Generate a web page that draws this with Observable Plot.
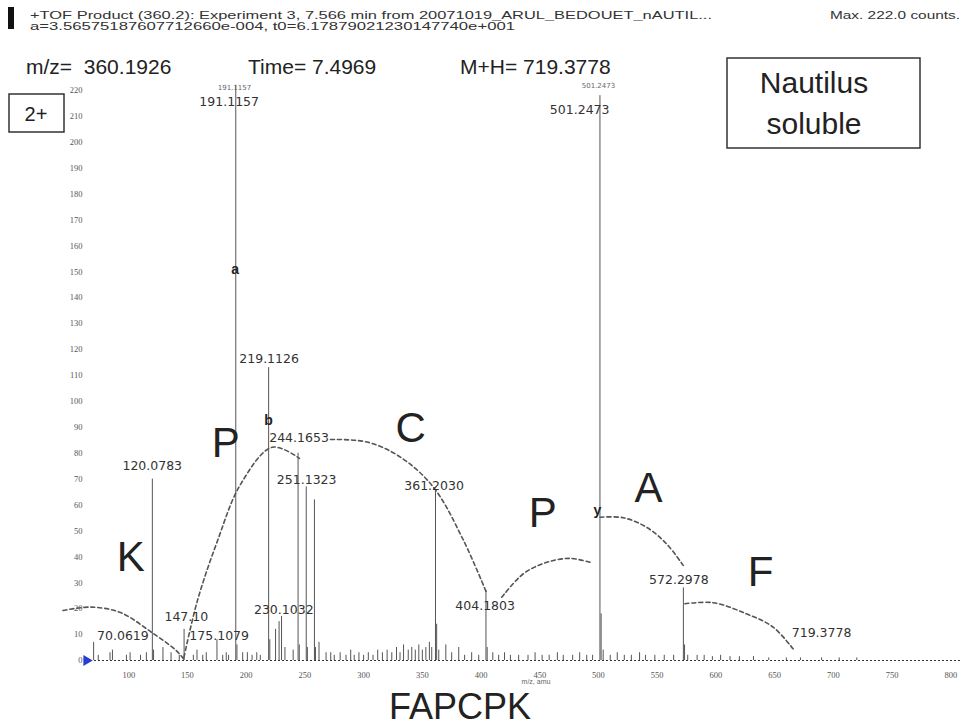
<!DOCTYPE html>
<html><head><meta charset="utf-8">
<script src="https://cdn.jsdelivr.net/npm/d3@7"></script>
<script src="https://cdn.jsdelivr.net/npm/@observablehq/plot@0.6"></script>
<style>
body{margin:0;background:#fff;}
#wrap{position:relative;width:966px;height:726px;}
#overlay{position:absolute;left:0;top:0;pointer-events:none;}
</style></head><body><div id="wrap"></div>
<script>
// ---- data ----
const peakMz  = [70.06,74,84,86.1,98,101.1,110,115,120.08,121.1,129.1,136,143,147.1,155,158.1,163,166,175.1,180,183,185,
  191.12,192.1,197,201,205,209,212,219.11,220.1,225,228,230.1,233,240,244.17,245.2,251.13,252.1,258.1,259,262,268,272,275,
  280,285,289,292,296,300,304,308,312,316,320,324,328,331,334,338,341,344,347,350,353,356,358,361.2,362.2,364,370,375,381,
  386,392,398,404.18,405.2,410,415,420,425,432,440,446,452,458,465,470,478,484,490,495,501.25,502.25,504,510,516,522,528,
  535,540,548,556,564,572.3,573.3,576,584,590,597,604,612,620,632,645,660,672,690,705,720];
const peakInt = [7,2,3,4,2,3,2,3,70,4,5,3,2,12,2,4,2,3,8,2,3,2,
  222,6,3,3,2,3,2,113,8,12,15,17,5,4,80,6,67,5,62,5,7,3,3,2,
  3,2,4,2,3,2,3,2,4,3,4,3,5,3,6,4,5,4,6,4,5,7,5,66,14,4,6,3,5,
  2,3,2,27,5,3,2,3,2,2,2,3,2,2,3,2,2,3,2,2,218,18,4,2,3,2,2,
  3,2,2,2,2,28,6,2,2,2,1.5,2,1.5,1.5,1.5,1,1,1,1,1,1];

const labelText = ["191.1157","501.2473","219.1126","244.1653","251.1323","120.0783","361.2030","404.1803",
  "572.2978","719.3778","230.1032","147.10","175.1079","70.0619"];
const labelMz  = [185.5,484,219.5,245,251.5,120,360,403.5,568.5,690,232,149,177,95];
const labelInt = [215.5,212.3,116.4,85.7,69.5,75,67.5,21,31,10.8,19.3,16.6,9.3,9.3];

const ghostText = ["191.1157","501.2473"];
const ghostMz   = [190,500];
const ghostInt  = [221,222];

const ionText = ["a","b","y"];
const ionMz   = [190.5,219,499];
const ionInt  = [151,92.5,58];

const residueText = ["K","P","C","P","A","F"];
const residueMz   = [101.7,182.6,340,452.5,542.7,638];
const residueInt  = [39.8,83.8,89.5,56.7,66.4,34];

// dashed sequence-ladder arcs
const arcK  = [[44,19.3],[68,20.6],[93,18.5],[119,11],[140,4],[147,0.5]];
const arcP1 = [[147,1.3],[158.4,23],[175.4,46],[195.2,68],[222.2,82.3],[245.4,78]];
const arcC  = [[271.8,85.3],[303,84.3],[331.3,78.5],[359.4,66.9],[385.1,46.3],[405,25.8]];
const arcP2 = [[417.6,24.4],[436.1,33.5],[456,37.9],[475.9,39.4],[492.9,37.9]];
const arcA  = [[501.4,55.3],[521.2,55.1],[541,51.4],[558,45],[572.2,36.7]];
const arcF  = [[573.6,21.9],[597.7,22.3],[626.1,18],[648.7,12.9],[665.7,4.5]];

const xTicks = [100,150,200,250,300,350,400,450,500,550,600,650,700,750,800];
const yTicks = d3.range(0, 221, 10);

// ---- tables ----
const peaks = peakMz.map((m,i)=>({mz:m, int:peakInt[i]}));
const labels = labelText.map((t,i)=>({t, mz:labelMz[i], int:labelInt[i]}));
const ghosts = ghostText.map((t,i)=>({t, mz:ghostMz[i], int:ghostInt[i]}));
const ions = ionText.map((t,i)=>({t, mz:ionMz[i], int:ionInt[i]}));
const residues = residueText.map((t,i)=>({t, mz:residueMz[i], int:residueInt[i]}));
const arcs = [["K",arcK],["P1",arcP1],["C",arcC],["P2",arcP2],["A",arcA],["F",arcF]]
  .flatMap(([k,pts])=>pts.map(([mz,int])=>({arc:k, mz, int})));
const xDomain = [64, 810];
const origin = [{mz:xDomain[0], int:0}];

const chart = Plot.plot({
  width: 966, height: 726,
  marginLeft: 86, marginRight: 4, marginTop: 77, marginBottom: 66,
  x: {domain: xDomain, label: null},
  y: {domain: [0, 225], label: null},
  style: {background: "white", fontFamily: "Liberation Sans, Arial, sans-serif"},
  marks: [
    Plot.ruleY([0], {stroke: "#333", strokeDasharray: "2,2", strokeWidth: 1}),
    Plot.ruleX(peaks, {x: "mz", y1: 0, y2: "int", stroke: "#555", strokeWidth: 1}),
    Plot.line(arcs, {x: "mz", y: "int", z: "arc", curve: "catmull-rom", stroke: "#555", strokeWidth: 1.6, strokeDasharray: "4,3"}),
    Plot.text(labels, {x: "mz", y: "int", text: "t", fontSize: 12.5, fontFamily: "DejaVu Sans", fill: "#333"}),
    Plot.text(ghosts, {x: "mz", y: "int", text: "t", fontSize: 7, fontFamily: "DejaVu Sans", fill: "#666"}),
    Plot.text(ions, {x: "mz", y: "int", text: "t", fontSize: 14, fontWeight: "bold", fontFamily: "Liberation Sans", fill: "#222"}),
    Plot.text(residues, {x: "mz", y: "int", text: "t", fontSize: 42, fontFamily: "Liberation Sans", fill: "#222"}),
    Plot.dot(origin, {x: "mz", y: "int", symbol: "triangle", rotate: 90, r: 4, fill: "#2a3bd0", stroke: "none"}),
    Plot.axisX({ticks: xTicks, tickSize: 0, tickPadding: 11, fontSize: 8.5, fontFamily: "Liberation Serif", fill: "#555", label: null}),
    Plot.axisY({ticks: yTicks, tickSize: 0, tickPadding: 4, fontSize: 8.5, fontFamily: "Liberation Serif", fill: "#555", label: null})
  ]
});
const wrap = document.getElementById("wrap");
wrap.appendChild(chart);

// ---- header, boxes and caption ----
const ov = d3.select(wrap).append("svg").attr("id","overlay").attr("width",966).attr("height",726)
  .style("font-family","Liberation Sans, Arial, sans-serif");
ov.append("rect").attr("x",8).attr("y",7).attr("width",6).attr("height",22).attr("fill","#111");
ov.append("text").attr("x",30).attr("y",19).attr("font-size",11).attr("fill","#333")
  .attr("textLength",682).attr("lengthAdjust","spacingAndGlyphs")
  .text("+TOF Product (360.2): Experiment 3, 7.566 min from 20071019_ARUL_BEDOUET_nAUTIL...");
ov.append("text").attr("x",30).attr("y",30).attr("font-size",11).attr("fill","#333")
  .attr("textLength",485).attr("lengthAdjust","spacingAndGlyphs")
  .text("a=3.56575187607712660e-004, t0=6.17879021230147740e+001");
ov.append("text").attr("x",960).attr("y",19).attr("font-size",11).attr("fill","#333").attr("text-anchor","end")
  .attr("textLength",130).attr("lengthAdjust","spacingAndGlyphs").text("Max. 222.0 counts.");
[["m/z=  360.1926",26],["Time= 7.4969",248],["M+H= 719.3778",460]].forEach(([t,x])=>{
  ov.append("text").attr("x",x).attr("y",74).attr("font-size",21).attr("fill","#222")
    .attr("xml:space","preserve").style("white-space","pre").text(t);
});
ov.append("rect").attr("x",727).attr("y",58).attr("width",193).attr("height",90)
  .attr("fill","none").attr("stroke","#333").attr("stroke-width",1.5);
ov.append("text").attr("x",814).attr("y",93).attr("font-size",30).attr("text-anchor","middle").attr("fill","#222").text("Nautilus");
ov.append("text").attr("x",814).attr("y",134).attr("font-size",30).attr("text-anchor","middle").attr("fill","#222").text("soluble");
ov.append("rect").attr("x",9).attr("y",94).attr("width",55).attr("height",38)
  .attr("fill","none").attr("stroke","#333").attr("stroke-width",1.5);
ov.append("text").attr("x",36).attr("y",121).attr("font-size",20).attr("text-anchor","middle").attr("fill","#222").text("2+");
ov.append("text").attr("x",536).attr("y",684).attr("font-size",7).attr("text-anchor","middle").attr("fill","#666").text("m/z, amu");
ov.append("text").attr("x",460).attr("y",719).attr("font-size",36).attr("text-anchor","middle").attr("fill","#222").text("FAPCPK");
</script></body></html>
